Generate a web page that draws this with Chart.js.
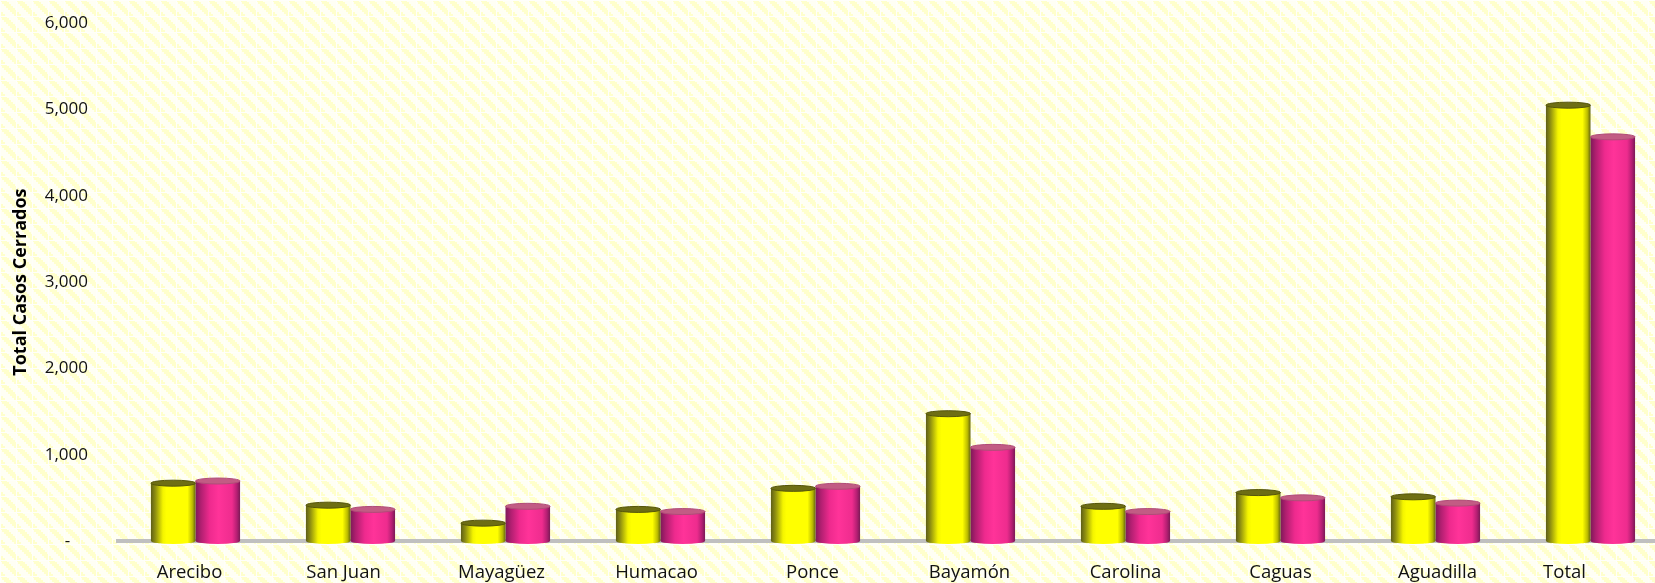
<!DOCTYPE html>
<html><head><meta charset="utf-8">
<style>
html,body{margin:0;padding:0;width:1655px;height:583px;overflow:hidden;background:#ffffe0}
#wrap{position:absolute;left:0;top:0;width:1668px;height:583px}
</style>
<script src="https://cdn.jsdelivr.net/npm/chart.js@4"></script>
</head><body><div id="wrap"><canvas id="c" width="1668" height="583"></canvas></div>
<script>
const categories=["Arecibo","San Juan","Mayagüez","Humacao","Ponce","Bayamón","Carolina","Caguas","Aguadilla","Total"];
const seriesA=[670,415,207,366,610,1475,402,561,512,5050];
const seriesB=[695,366,402,341,634,1085,341,500,439,4683];
const yTicks=[0,1000,2000,3000,4000,5000,6000];
const labelShift=[-6,-7,-4,-4,-3,-1,0,0,2,-26];
const catPct=0.575;

function makePattern(){
  const p=document.createElement('canvas');p.width=16;p.height=16;
  const g=p.getContext('2d');
  g.fillStyle='#fffff4';g.fillRect(0,0,16,16);
  g.fillStyle='#ffffcc';
  for(let i=0;i<16;i+=2){
    for(let k=0;k<6;k++){
      g.fillRect((i+k)%16,i,1,2);
      g.fillRect((i+k+1)%16,i,1,2);
    }
  }
  g.fillStyle='#fffffa';
  g.fillRect(0,0,16,1);g.fillRect(0,0,1,16);
  return p;
}
const bgPattern=makePattern();

const yellowStops=[[0,'#5e5e18'],[0.1,'#8f8f10'],[0.27,'#f4f400'],[0.35,'#ffff00'],[0.82,'#ffff00'],[0.93,'#bcbc00'],[1,'#66660f']];
const pinkStops=[[0,'#7e1a58'],[0.12,'#b01f70'],[0.32,'#ee2a8e'],[0.52,'#ff3399'],[0.82,'#ee2c8e'],[0.93,'#b31f72'],[1,'#7a1a55']];

function gradFor(chart,idx,dsIndex,stops){
  const x=chart.scales.x, c=chart.ctx;
  if(!x) return stops[3][1];
  const step=x.getPixelForValue(1)-x.getPixelForValue(0);
  const w=step*catPct/2, cx=x.getPixelForValue(idx);
  if(!isFinite(w)||!isFinite(cx)||w<=0) return stops[3][1];
  const l=dsIndex===0?cx-w:cx;
  const g=c.createLinearGradient(l,0,l+w,0);
  stops.forEach(s=>g.addColorStop(s[0],s[1]));
  return g;
}

const cylinder={
  id:'cylinder',
  beforeDraw(chart){
    const c=chart.ctx;
    c.save();
    c.fillStyle=c.createPattern(bgPattern,'repeat');
    c.fillRect(0,0,chart.width,chart.height);
    c.restore();
  },
  afterDatasetsDraw(chart){
    const c=chart.ctx;
    chart.data.datasets.forEach((ds,i)=>{
      const stops=i===0?yellowStops:pinkStops;
      chart.getDatasetMeta(i).data.forEach((el,idx)=>{
        const rx=el.width/2, ry=3;
        c.save();
        c.fillStyle=gradFor(chart,idx,i,stops);
        c.beginPath();c.ellipse(el.x,el.base,rx,ry,0,0,Math.PI);c.fill();
        c.fillStyle=i===0?'#6e6e14':'#c25c84';
        c.strokeStyle=i===0?'#55550a':'#b04c78';
        c.lineWidth=1;
        c.beginPath();c.ellipse(el.x,el.y,rx,ry,0,0,Math.PI*2);c.fill();c.stroke();
        c.restore();
      });
    });
  }
};
const shiftLabels={
  id:'shiftLabels',
  afterLayout(chart){
    const s=chart.scales.x;
    if(s._shiftWrapped) return;
    const orig=s._computeLabelItems.bind(s);
    s._computeLabelItems=function(a){
      const items=orig(a);
      items.forEach((it,i)=>{ it.options.translation[0]+=labelShift[i]||0; });
      return items;
    };
    s._shiftWrapped=true;
  }
};
new Chart(document.getElementById('c'),{
  type:'bar',
  data:{labels:categories,datasets:[
    {label:'A',data:seriesA,backgroundColor:ctx=>gradFor(ctx.chart,ctx.dataIndex,0,yellowStops)},
    {label:'B',data:seriesB,backgroundColor:ctx=>gradFor(ctx.chart,ctx.dataIndex,1,pinkStops)}
  ]},
  plugins:[cylinder,shiftLabels],
  options:{
    responsive:false,animation:false,
    layout:{padding:{left:10,right:0,top:6,bottom:0}},
    plugins:{legend:{display:false},tooltip:{enabled:false}},
    datasets:{bar:{categoryPercentage:catPct,barPercentage:1}},
    scales:{
      x:{afterFit(s){s.height=42;},grid:{display:false,drawTicks:false},border:{color:'#c0c0c0',width:4},
         ticks:{color:'#111',font:{family:'"Open Sans"',size:18.5},padding:21,maxRotation:0,autoSkip:false}},
      y:{min:0,max:6000,
         afterFit(s){s.width=108;},
         afterBuildTicks(s){s.ticks=yTicks.map(v=>({value:v}));},
         grid:{display:false,tickLength:17},border:{display:false},
         title:{display:true,text:'Total Casos Cerrados',color:'#000',font:{family:'"Open Sans"',size:18,weight:'bold'},padding:{top:0,bottom:0}},
         ticks:{color:'#111',font:{family:'"Open Sans"',size:17},padding:13,
           callback:v=>v===0?'-    ':v.toLocaleString('en-US')}}
    }
  }
});
</script></body></html>
